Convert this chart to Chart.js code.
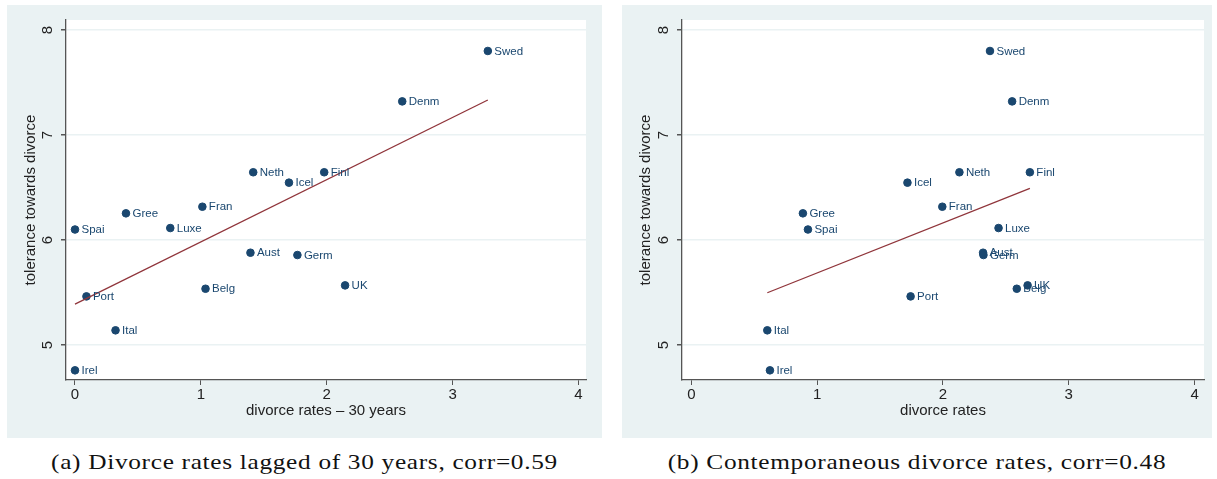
<!DOCTYPE html>
<html>
<head>
<meta charset="utf-8">
<script src="https://cdn.jsdelivr.net/npm/chart.js@4.4.1/dist/chart.umd.min.js"></script>
<style>
  body { margin: 0; background: #fff; width: 1217px; height: 479px; position: relative; overflow: hidden; }
  canvas { position: absolute; background: #eaf2f3; }
  .cap { position: absolute; top: 449px; font-family: "Liberation Serif", serif; font-size: 22px; color: #111; white-space: nowrap; text-align: center; letter-spacing: 0.6px; transform: scaleX(1.15); transform-origin: 50% 50%; }
</style>
</head>
<body>
<canvas id="chartA" width="595" height="433" style="left:7px;top:5px"></canvas>
<canvas id="chartB" width="590" height="433" style="left:622px;top:5px"></canvas>
<div class="cap" style="left:7px;width:595px">(a) Divorce rates lagged of 30 years, corr=0.59</div>
<div class="cap" style="left:622px;width:590px">(b) Contemporaneous divorce rates, corr=0.48</div>
<script>
const countries = ["Swed", "Denm", "Neth", "Finl", "Icel", "Fran", "Gree", "Spai", "Luxe", "Aust", "Germ", "UK", "Belg", "Port", "Ital", "Irel"];
const tolerance = [7.80, 7.32, 6.645, 6.645, 6.546, 6.317, 6.254, 6.10, 6.114, 5.879, 5.857, 5.568, 5.536, 5.463, 5.14, 4.759];
const divorce30 = [3.28, 2.60, 1.416, 1.98, 1.70, 1.012, 0.405, 0.0, 0.757, 1.394, 1.767, 2.146, 1.037, 0.091, 0.322, 0.0];
const divorceNow = [2.374, 2.55, 2.131, 2.691, 1.718, 1.995, 0.887, 0.927, 2.442, 2.319, 2.322, 2.673, 2.587, 1.743, 0.604, 0.625];
// fitted line endpoints
const fitA = [{x: 0.0, y: 5.39}, {x: 3.28, y: 7.333}];
const fitB = [{x: 0.604, y: 5.498}, {x: 2.691, y: 6.492}];
const xTicks = [0, 1, 2, 3, 4];
const yTicks = [5, 6, 7, 8];

const navy = '#1a476f';
const maroon = '#90353b';
const font = "'Liberation Sans', Arial, sans-serif";

const plotBg = {
  id: 'plotBg',
  beforeDraw(chart) {
    const {ctx, chartArea: a} = chart;
    ctx.save();
    ctx.fillStyle = '#fff';
    ctx.fillRect(a.left, a.top, a.right - a.left, a.bottom - a.top);
    ctx.restore();
  }
};

// Stata-style y tick labels, turned to read bottom-up
const yLabels = {
  id: 'yLabels',
  afterDraw(chart) {
    const {ctx} = chart;
    const s = chart.scales.y;
    ctx.save();
    ctx.font = `15px ${font}`;
    ctx.fillStyle = '#222';
    ctx.textAlign = 'center';
    ctx.textBaseline = 'middle';
    yTicks.forEach(v => {
      ctx.save();
      ctx.translate(s.right - 18, s.getPixelForValue(v));
      ctx.rotate(-Math.PI / 2);
      ctx.fillText(String(v), 0, 0);
      ctx.restore();
    });
    ctx.restore();
  }
};

const pointLabels = {
  id: 'pointLabels',
  afterDatasetsDraw(chart) {
    const {ctx} = chart;
    const meta = chart.getDatasetMeta(0);
    ctx.save();
    ctx.font = `11.5px ${font}`;
    ctx.fillStyle = navy;
    ctx.textBaseline = 'middle';
    meta.data.forEach((pt, i) => {
      ctx.fillText(countries[i], pt.x + 6.5, pt.y + 0.5);
    });
    ctx.restore();
  }
};

const makeChart = (id, xs, fit, xTitle, xMin, xMax, yWidth, padRight) => {
  const pts = xs.map((x, i) => ({x, y: tolerance[i]}));
  return new Chart(document.getElementById(id), {
    type: 'scatter',
    data: {
      datasets: [{
        data: pts,
        backgroundColor: navy,
        borderColor: navy,
        pointRadius: 3.8,
        pointHoverRadius: 3.8,
        order: 2
      }, {
        data: fit,
        showLine: true,
        borderColor: maroon,
        borderWidth: 1.3,
        pointRadius: 0,
        fill: false,
        order: 1
      }]
    },
    options: {
      responsive: false,
      animation: false,
      events: [],
      layout: { padding: { top: 15, right: padRight, left: 0, bottom: 0 } },
      plugins: { legend: { display: false }, tooltip: { enabled: false } },
      scales: {
        x: {
          type: 'linear',
          min: xMin,
          max: xMax,
          afterBuildTicks: s => { s.ticks = xTicks.map(v => ({value: v})); },
          afterFit: s => { s.height = 58; },
          grid: { color: 'rgba(0,0,0,0)', tickColor: '#555', tickLength: 5, drawOnChartArea: false },
          border: { color: '#555', width: 1.3 },
          ticks: { color: '#222', font: { family: font, size: 15 }, padding: 1, maxRotation: 0 },
          title: { display: true, text: xTitle, color: '#222', font: { family: font, size: 15 }, padding: { top: 0, bottom: 18 } }
        },
        y: {
          type: 'linear',
          min: 4.667,
          max: 8.095,
          afterBuildTicks: s => { s.ticks = yTicks.map(v => ({value: v})); },
          afterFit: s => { s.width = yWidth; },
          grid: { color: '#eaf2f3', lineWidth: 1.5, tickColor: '#555', tickLength: 5 },
          border: { color: '#555', width: 1.3 },
          ticks: { color: 'rgba(0,0,0,0)', font: { family: font, size: 15 } },
          title: { display: true, text: 'tolerance towards divorce', color: '#222', font: { family: font, size: 15 }, padding: { top: 15, bottom: 0 } }
        }
      }
    },
    plugins: [plotBg, yLabels, pointLabels]
  });
};

makeChart('chartA', divorce30, fitA, 'divorce rates \u2013 30 years', -0.0715, 4.06, 59, 16);
makeChart('chartB', divorceNow, fitB, 'divorce rates', -0.074, 4.075, 60, 8);
</script>
</body>
</html>
